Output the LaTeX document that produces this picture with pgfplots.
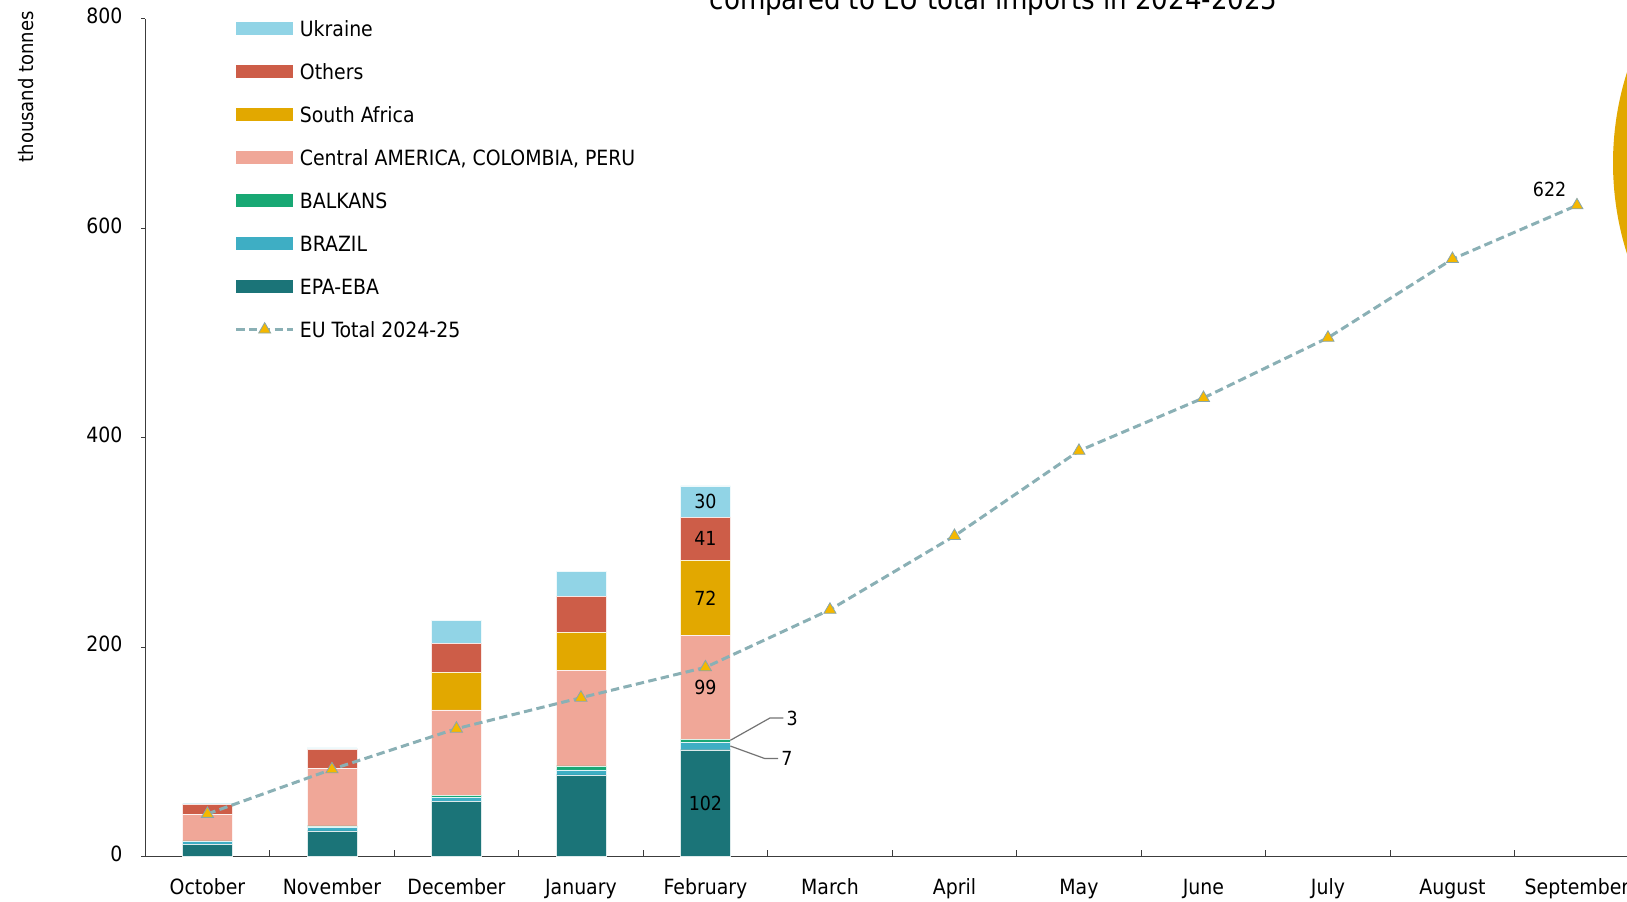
\documentclass[border=0pt]{standalone}
\usepackage{fontspec}
\setmainfont{DejaVu Sans Condensed}
\usepackage{pgfplots}
\pgfplotsset{compat=1.18}
\definecolor{cUkr}{HTML}{91D4E6}
\definecolor{cOth}{HTML}{CD5D48}
\definecolor{cSA}{HTML}{E2A800}
\definecolor{cCen}{HTML}{F0A798}
\definecolor{cBal}{HTML}{18A874}
\definecolor{cBra}{HTML}{3EAEC4}
\definecolor{cEPA}{HTML}{1B7478}
\definecolor{cLine}{HTML}{8AB0B5}
\definecolor{cMark}{HTML}{F5B800}
\definecolor{axgray}{HTML}{3C3C3C}
\pgfplotsset{
  base/.style={
    scale only axis, width=747pt, height=418.75pt,
    xmin=-0.5, xmax=11.5, ymin=0, ymax=800,
    at={(0pt,0pt)}, anchor=south west, clip=false,
  },
  patch/.style={legend image code/.code={\fill[##1, draw=none] (0pt,-3.25pt) rectangle (28.5pt,3.25pt);}},
  linelegend/.style={legend image code/.code={\draw[##1, mark repeat=2, mark phase=2] plot coordinates {(0pt,0pt) (14.25pt,0pt) (28.5pt,0pt)};}},
  seg/.style={fill=#1, draw=white!85!#1, line width=0.2pt},
}
\tikzset{lbl/.style={font=\fontsize{9.7}{11}\selectfont}, ann/.style={gray!90!black, line width=0.6pt}}
\begin{document}
\begin{tikzpicture}
\fill[cSA] (883.9pt,346.75pt) circle (150pt);
\begin{axis}[base,
  axis x line*=bottom, axis y line*=left,
  x axis line style={color=axgray, line width=0.7pt, -},
  y axis line style={color=axgray, line width=0.5pt, -},
  tick align=inside,
  xtick={0,...,11},
  xticklabels={October,November,December,January,February,March,April,May,June,July,August,September},
  major x tick style={draw=none},
  minor xtick={0.5,1.5,...,10.5},
  minor x tick style={color=axgray, line width=0.5pt},
  minor tick length=3.5pt,
  ytick={0,200,400,600,800},
  major tick length=2pt,
  y tick style={color=axgray, line width=0.5pt, xshift=-2pt},
  ticklabel style={font=\fontsize{10.5}{12}\selectfont, text=black},
  typeset ticklabels with strut,
  /pgf/number format/assume math mode=true,
  xticklabel style={yshift=-7pt},
  yticklabel style={xshift=-7.9pt},
  ylabel={thousand tonnes},
  ylabel style={at={(axis description cs:-0.0798,0.919)}, anchor=center, font=\fontsize{10}{12}\selectfont},
  ybar stacked, bar width=0.4,
]
\addplot[seg=cEPA] coordinates {(0,11.8) (1,24.5) (2,52.5) (3,77.9) (4,102)};
\addplot[seg=cBra] coordinates {(0,2.5) (1,3.5) (2,3.8) (3,4.8) (4,7)};
\addplot[seg=cBal] coordinates {(0,0.6) (1,1.3) (2,2.2) (3,3.8) (4,3)};
\addplot[seg=cCen] coordinates {(0,25.5) (1,55) (2,81.5) (3,91.6) (4,99)};
\addplot[seg=cSA] coordinates {(0,0) (1,0) (2,36.2) (3,36.3) (4,72)};
\addplot[seg=cOth] coordinates {(0,9.5) (1,18.1) (2,27.7) (3,34.3) (4,41)};
\addplot[seg=cUkr] coordinates {(0,0.5) (1,1.3) (2,21.9) (3,23.9) (4,30)};
\end{axis}
\begin{axis}[base, hide axis,
  legend cell align=left,
  legend style={draw=none, fill=none, at={(axis description cs:0.0599,1.0)}, anchor=north west,
    inner sep=0pt, outer sep=0pt, row sep=11.9pt, column sep=1.6pt,
    font=\fontsize{10.5}{12}\selectfont,
    nodes={inner sep=1pt, text height=7.6pt, text depth=0pt}},
]
\addlegendimage{patch, fill=cUkr}\addlegendentry{Ukraine}
\addlegendimage{patch, fill=cOth}\addlegendentry{Others}
\addlegendimage{patch, fill=cSA}\addlegendentry{South Africa}
\addlegendimage{patch, fill=cCen}\addlegendentry{Central AMERICA, COLOMBIA, PERU}
\addlegendimage{patch, fill=cBal}\addlegendentry{BALKANS}
\addlegendimage{patch, fill=cBra}\addlegendentry{BRAZIL}
\addlegendimage{patch, fill=cEPA}\addlegendentry{EPA-EBA}
\addplot[color=cLine, line width=1.5pt, dash pattern=on 4.2pt off 2.2pt,
  mark=triangle*, mark size=3.5pt,
  mark options={solid, fill=cMark, draw=cLine!80!gray, line width=0.4pt},
  linelegend]
  coordinates {(0,40.7) (1,83.3) (2,122.1) (3,151.7) (4,180.7) (5,235.7) (6,306.2) (7,387.5) (8,438) (9,495.5) (10,570.7) (11,622)};
\addlegendentry{EU Total 2024-25}
\node[lbl] at (axis cs:10.78,637) {622};
\node[lbl] at (axis cs:4,51) {102};
\node[lbl] at (axis cs:4,161.5) {99};
\node[lbl] at (axis cs:4,247) {72};
\node[lbl] at (axis cs:4,303.5) {41};
\node[lbl] at (axis cs:4,339) {30};
\draw[ann] (axis cs:4.2,111) -- (axis cs:4.518,132.3) -- (axis cs:4.626,132.3) node[lbl, right, inner sep=1.3pt, text=black] {3};
\draw[ann] (axis cs:4.2,105.5) -- (axis cs:4.476,93.6) -- (axis cs:4.584,93.6) node[lbl, right, inner sep=1.3pt, text=black] {7};
\end{axis}
\node[font=\fontsize{14.5}{17}\selectfont, anchor=base] at (424.2pt,423.5pt) {compared to EU total imports in 2024-2025};
\pgfresetboundingbox
\useasboundingbox (-72.6pt,-22.25pt) rectangle (740.9pt,428.25pt);
\end{tikzpicture}
\end{document}
